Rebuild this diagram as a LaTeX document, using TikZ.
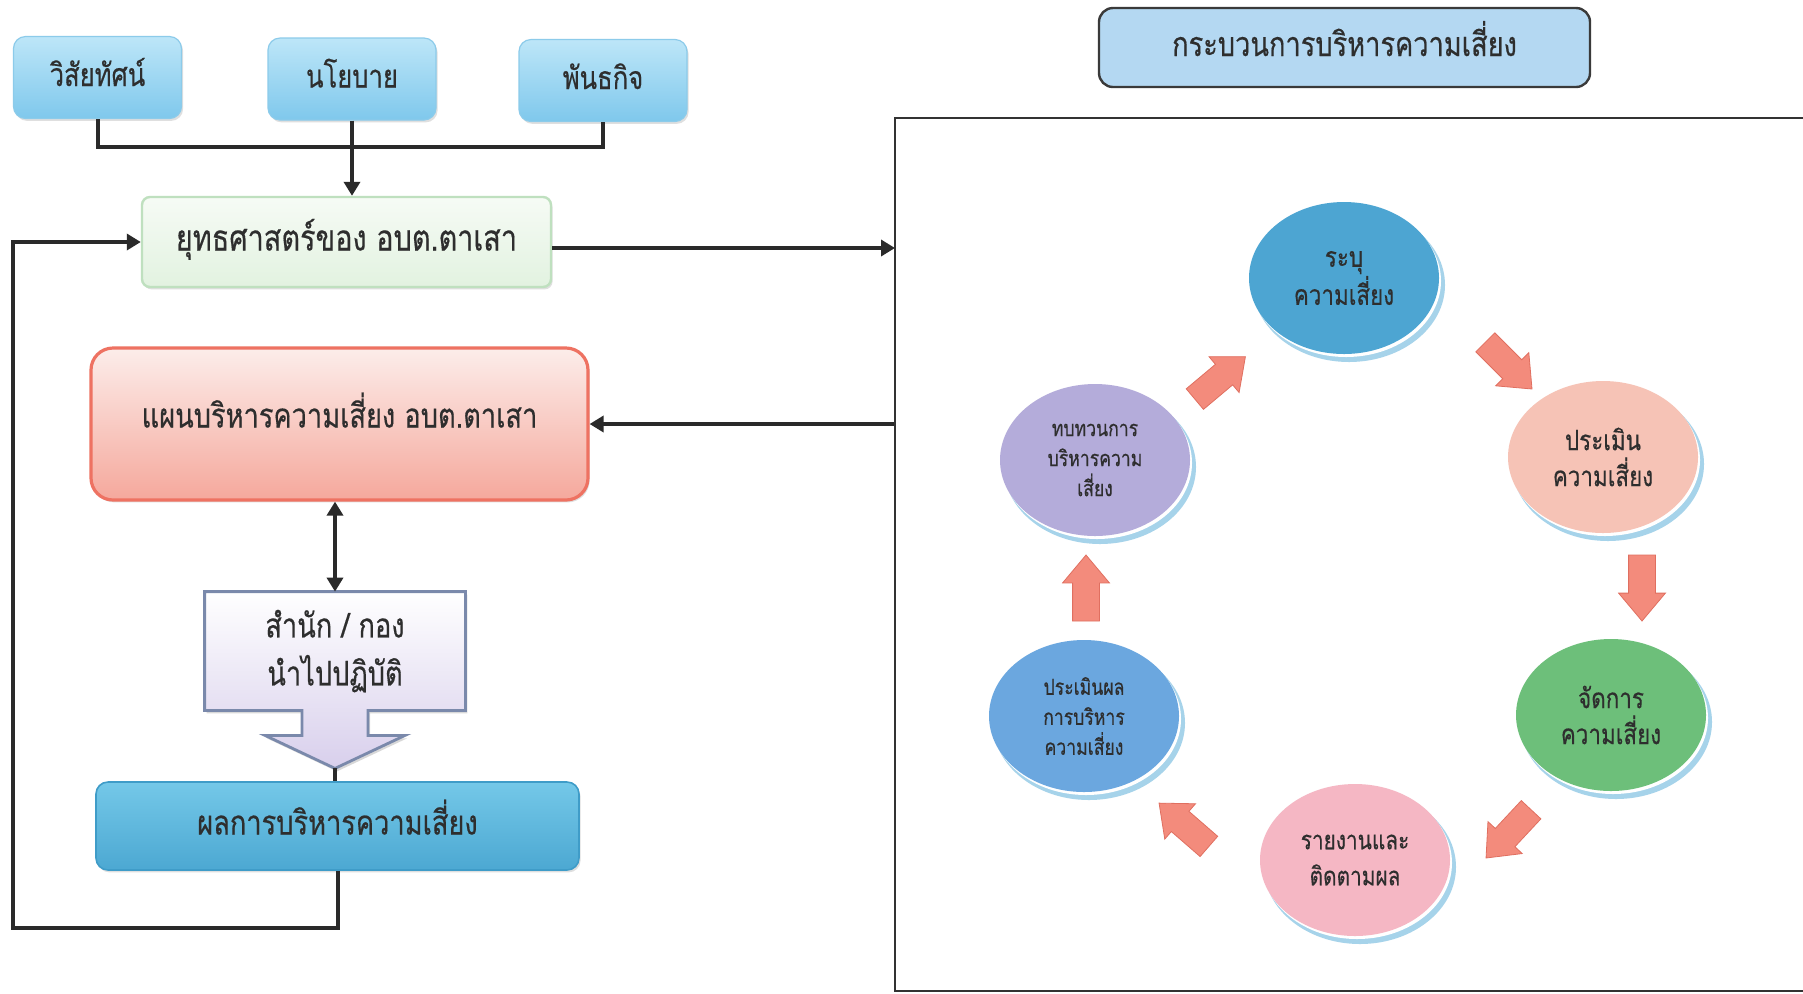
\documentclass[tikz,border=0pt]{standalone}
\usepackage{fontspec}
\setmainfont[Script=Thai,FakeStretch=0.8,FakeBold=0.4]{Loma}
\usetikzlibrary{shapes.geometric,shapes.arrows,arrows.meta,shadows,calc,backgrounds}
\definecolor{txt}{HTML}{2E2E2E}
\definecolor{lineC}{HTML}{2A2A2A}
\definecolor{tbTop}{HTML}{BDE6F8}
\definecolor{tbBot}{HTML}{7FC8EC}
\definecolor{tbEdge}{HTML}{8CCBEA}
\definecolor{stTop}{HTML}{F6FBF5}
\definecolor{stBot}{HTML}{E2F2E0}
\definecolor{stEdge}{HTML}{BFE0BF}
\definecolor{plTop}{HTML}{FCEDEA}
\definecolor{plBot}{HTML}{F5A89C}
\definecolor{plEdge}{HTML}{EE7262}
\definecolor{ofBot}{HTML}{D8CFEC}
\definecolor{ofEdge}{HTML}{7A89AB}
\definecolor{rsTop}{HTML}{74C8E8}
\definecolor{rsBot}{HTML}{4CA8D2}
\definecolor{rsEdge}{HTML}{3F9CC8}
\definecolor{tiFill}{HTML}{B4D8F2}
\definecolor{tiEdge}{HTML}{3A3A3A}
\definecolor{frameC}{HTML}{333333}
\definecolor{ringC}{HTML}{A6D3EA}
\definecolor{cIdent}{HTML}{4DA5D2}
\definecolor{cAssess}{HTML}{F6C3B6}
\definecolor{cManage}{HTML}{6DBF7A}
\definecolor{cReport}{HTML}{F5B7C4}
\definecolor{cEval}{HTML}{6BA7DF}
\definecolor{cReview}{HTML}{B4ACDA}
\definecolor{arrC}{HTML}{F38B7C}
\definecolor{arrEdge}{HTML}{E06F60}
\newcommand\bubble[6]{%
  \fill[ringC] (#2+5,#3+7) ellipse [x radius=96, y radius=77];
  \fill[white] (#2+2,#3+3) ellipse [x radius=95, y radius=76];
  \node[circ, fill=#4, font=#5] (#1) at (#2,#3) {#6};}
\begin{document}
\begin{tikzpicture}[x=0.5pt,y=-0.5pt,
  conn/.style={line width=2pt, draw=lineC},
  arr/.style={conn, -{Triangle[length=7pt,width=8pt]}},
  dblarr/.style={conn, {Triangle[length=7pt,width=8pt]}-{Triangle[length=7pt,width=8pt]}},
  shade/.style={drop shadow={opacity=0.25, shadow xshift=0.8pt, shadow yshift=-1.2pt}},
  oneline/.style={text height=11pt, text depth=2.5pt},
  topbox/.style={rounded corners=6pt, top color=tbTop, bottom color=tbBot, draw=tbEdge,
     line width=0.6pt, minimum width=84pt, minimum height=41pt, text=txt,
     font=\fontsize{16}{20}\selectfont, oneline, shade},
  stratbox/.style={rounded corners=4pt, top color=stTop, bottom color=stBot, draw=stEdge, line width=1.2pt,
     minimum width=204.5pt, minimum height=45pt, text=txt, font=\fontsize{18}{22}\selectfont, oneline, shade},
  planbox/.style={rounded corners=11pt, top color=plTop, bottom color=plBot, draw=plEdge,
     line width=1.6pt, minimum width=248.5pt, minimum height=76pt, text=txt,
     font=\fontsize{17}{22}\selectfont, text height=6pt, text depth=2.5pt, shade},
  officebox/.style={minimum width=130pt, minimum height=59pt, text=txt, align=center,
     font=\fontsize{17}{24}\selectfont},
  resbox/.style={rounded corners=6pt, top color=rsTop, bottom color=rsBot, draw=rsEdge,
     line width=0.8pt, minimum width=241.5pt, minimum height=44pt, text=txt,
     font=\fontsize{17}{22}\selectfont, oneline, shade},
  titlebox/.style={rounded corners=7pt, fill=tiFill, draw=tiEdge, line width=1.2pt,
     minimum width=245.5pt, minimum height=39.5pt, text=txt, font=\fontsize{17}{22}\selectfont, oneline},
  frame/.style={line width=1pt, draw=frameC},
  circ/.style={ellipse, minimum width=95pt, minimum height=76pt, inner sep=0pt, align=center, text=txt},
  barrow/.style={single arrow, fill=arrC, draw=arrEdge, line width=0.4pt, minimum height=33pt,
     inner xsep=0pt, inner ysep=6.5pt, single arrow head extend=5pt, single arrow tip angle=80},
]
\useasboundingbox (0,0) rectangle (1803,993);
\begin{scope}[on background layer]
  \fill[white] (0,0) rectangle (1803,993);
\end{scope}

% ---- left column ----
\node[topbox] (v1) at (97.5,77.5) {วิสัยทัศน์};
\node[topbox] (v2) at (352,79) {นโยบาย};
\node[topbox] (v3) at (603,80.5) {พันธกิจ};
\node[stratbox] (strat) at (346.5,242) {ยุทธศาสตร์ของ อบต.ตาเสา};
\node[planbox] (plan) at (339.5,424) {แผนบริหารความเสี่ยง อบต.ตาเสา};
\node[officebox] (office) at (335,651) {สำนัก / กอง\\นำไปปฏิบัติ};
\coordinate (otip) at ($(office.south)+(0,58)$);
\begin{scope}[on background layer]
  \path[top color=white, bottom color=ofBot, draw=ofEdge, line width=1.4pt,
        drop shadow={opacity=0.3, shadow xshift=1pt, shadow yshift=-1.5pt}]
    (office.north west) -- (office.north east) -- (office.south east)
    -- ($(office.south)+(33,0)$) -- ($(office.south)+(33,25)$) -- ($(office.south)+(70,25)$)
    -- (otip) -- ($(office.south)+(-70,25)$) -- ($(office.south)+(-33,25)$)
    -- ($(office.south)+(-33,0)$) -- (office.south west) -- cycle;
\end{scope}
\node[resbox] (res) at (337.5,826) {ผลการบริหารความเสี่ยง};

\coordinate (jn) at (352,147);
\coordinate (pin) at (895,248);
\coordinate (pout) at (895,424);
\coordinate (lb) at (13,928);
\draw[conn] (v1.south) |- (jn);
\draw[conn] (v3.south) |- (jn);
\draw[arr] (v2.south) -- (v2.south |- strat.north);
\draw[arr] (strat.east |- pin) -- (pin);
\draw[arr] (pout) -- (plan.east);
\draw[dblarr] (plan.south -| office.north) -- (office.north);
\draw[conn] (otip) -- (res.north -| otip);
\draw[arr] (res.south) |- (lb) |- (strat.west);

% ---- right column ----
\node[titlebox] (title) at (1344.5,47.5) {กระบวนการบริหารความเสี่ยง};
\draw[frame] (1803,118) -- (895,118) -- (895,991) -- (1803,991);

\bubble{c1}{1344}{278}{cIdent}{\fontsize{14}{18}\selectfont}{ระบุ\\ความเสี่ยง}
\bubble{c2}{1603}{457}{cAssess}{\fontsize{14}{18}\selectfont}{ประเมิน\\ความเสี่ยง}
\bubble{c3}{1611}{715}{cManage}{\fontsize{14}{18}\selectfont}{จัดการ\\ความเสี่ยง}
\bubble{c4}{1355}{860}{cReport}{\fontsize{13}{18}\selectfont}{รายงานและ\\ติดตามผล}
\bubble{c5}{1084}{716}{cEval}{\fontsize{11}{15}\selectfont}{ประเมินผล\\การบริหาร\\ความเสี่ยง}
\bubble{c6}{1095}{460}{cReview}{\fontsize{11}{15}\selectfont}{ทบทวนการ\\บริหารความ\\เสี่ยง}

\node[barrow, rotate=40] (a1) at (1214,383) {};
\node[barrow, rotate=-45] (a2) at (1503,360) {};
\node[barrow, rotate=-90] (a3) at (1642,580) {};
\node[barrow, rotate=-133] (a4) at (1514,828) {};
\node[barrow, rotate=139] (a5) at (1190,830) {};
\node[barrow, rotate=90] (a6) at (1086,596) {};
\end{tikzpicture}
\end{document}
